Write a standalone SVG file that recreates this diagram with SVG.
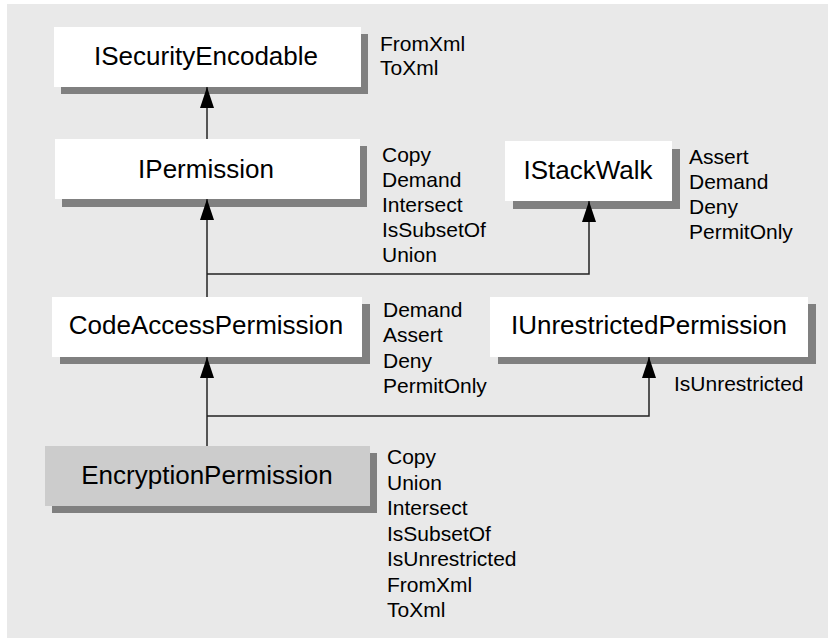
<svg xmlns="http://www.w3.org/2000/svg" width="828" height="639" viewBox="0 0 828 639">
  <style>
    .shadow { fill: #808080; }
    .box { fill: #ffffff; }
    .boxg { fill: #cccccc; }
    .title { font-family: "Liberation Sans", Arial, sans-serif; font-size: 26px; fill: #000; text-anchor: middle; }
    .lbl { font-family: "Liberation Sans", Arial, sans-serif; font-size: 21px; fill: #000; }
    .conn { fill: none; stroke: #222; stroke-width: 1.5; }
  </style>
  <defs>
    <marker id="arrow" markerUnits="userSpaceOnUse" markerWidth="21" markerHeight="14" viewBox="0 0 21 14" refX="21" refY="7" orient="auto">
      <path d="M21,7 L0,0 L0,14 Z" fill="#000"/>
    </marker>
  </defs>
  <rect x="7" y="4" width="821" height="634" fill="#e9e9e9"/>

  <g id="ISecurityEncodable">
    <rect class="shadow" x="61" y="34" width="307" height="60"/>
    <rect class="box" x="54" y="27" width="307" height="60"/>
    <text class="title" x="206" y="65">ISecurityEncodable</text>
    <text class="lbl" x="380" y="51">FromXml</text>
    <text class="lbl" x="380" y="75">ToXml</text>
  </g>

  <g id="IPermission">
    <rect class="shadow" x="62" y="146" width="305" height="61"/>
    <rect class="box" x="55" y="139" width="305" height="60"/>
    <text class="title" x="206" y="178">IPermission</text>
    <text class="lbl" x="382" y="162">Copy</text>
    <text class="lbl" x="382" y="187">Demand</text>
    <text class="lbl" x="382" y="212">Intersect</text>
    <text class="lbl" x="382" y="237">IsSubsetOf</text>
    <text class="lbl" x="382" y="262">Union</text>
  </g>

  <g id="IStackWalk">
    <rect class="shadow" x="513" y="149" width="167" height="60"/>
    <rect class="box" x="505" y="141" width="167" height="60"/>
    <text class="title" x="588" y="179">IStackWalk</text>
    <text class="lbl" x="689" y="164">Assert</text>
    <text class="lbl" x="689" y="189">Demand</text>
    <text class="lbl" x="689" y="214">Deny</text>
    <text class="lbl" x="689" y="239">PermitOnly</text>
  </g>

  <g id="CodeAccessPermission">
    <rect class="shadow" x="60" y="304" width="310" height="60"/>
    <rect class="box" x="52" y="297" width="310" height="60"/>
    <text class="title" x="206" y="334">CodeAccessPermission</text>
    <text class="lbl" x="383" y="317">Demand</text>
    <text class="lbl" x="383" y="342">Assert</text>
    <text class="lbl" x="383" y="368">Deny</text>
    <text class="lbl" x="383" y="393">PermitOnly</text>
  </g>

  <g id="IUnrestrictedPermission">
    <rect class="shadow" x="498" y="304" width="318" height="60"/>
    <rect class="box" x="490" y="297" width="318" height="60"/>
    <text class="title" x="649" y="334">IUnrestrictedPermission</text>
    <text class="lbl" x="674" y="391">IsUnrestricted</text>
  </g>

  <g id="EncryptionPermission">
    <rect class="shadow" x="52" y="453" width="325" height="60"/>
    <rect class="boxg" x="45" y="446" width="325" height="60"/>
    <text class="title" x="207" y="484">EncryptionPermission</text>
    <text class="lbl" x="387" y="464">Copy</text>
    <text class="lbl" x="387" y="490">Union</text>
    <text class="lbl" x="387" y="515">Intersect</text>
    <text class="lbl" x="387" y="541">IsSubsetOf</text>
    <text class="lbl" x="387" y="566">IsUnrestricted</text>
    <text class="lbl" x="387" y="592">FromXml</text>
    <text class="lbl" x="387" y="617">ToXml</text>
  </g>

  <g id="connectors">
    <path class="conn" d="M207,139 V87" marker-end="url(#arrow)"/>
    <path class="conn" d="M207,297 V199" marker-end="url(#arrow)"/>
    <path class="conn" d="M207,274 H589 V201" marker-end="url(#arrow)"/>
    <path class="conn" d="M207,446 V357" marker-end="url(#arrow)"/>
    <path class="conn" d="M207,416 H649 V357" marker-end="url(#arrow)"/>
  </g>
</svg>
